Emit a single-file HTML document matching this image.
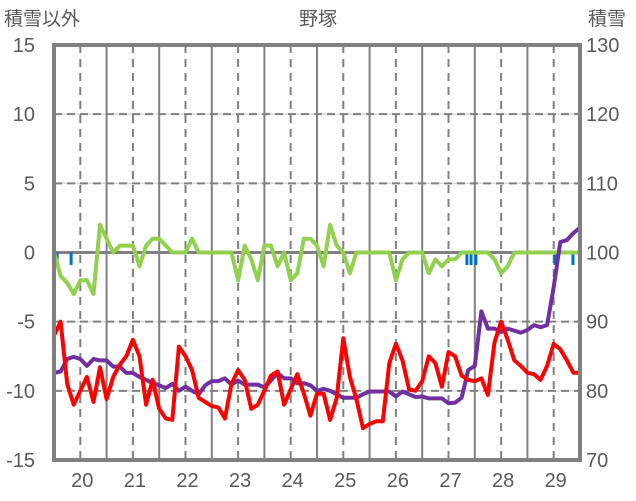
<!DOCTYPE html>
<html><head><meta charset="utf-8">
<style>
html,body{margin:0;padding:0;background:#fff;}
svg{display:block;font-family:"Liberation Sans","Noto Sans CJK JP",sans-serif;}
</style></head>
<body>
<svg id="chart" width="636" height="501" viewBox="0 0 636 501" xmlns="http://www.w3.org/2000/svg">
<text x="318" y="25" font-size="19" fill="#595959" text-anchor="middle">野塚</text>
<text x="4" y="25" font-size="19" fill="#595959">積雪以外</text>
<text x="588" y="25" font-size="19" fill="#595959">積雪</text>
<g id="grid"></g>
<g id="series"></g>
<rect x="54" y="45" width="526" height="415" fill="none" stroke="#808080" stroke-width="4"/>
<g id="axes"></g>
</svg>
<script>
const dayLabels = ["20","21","22","23","24","25","26","27","28","29"];
const leftTicks = [15,10,5,0,-5,-10,-15];
const rightTicks = [130,120,110,100,90,80,70];
// 3-hourly values starting 19th 12:00
const redValues = [-6,-5,-9.5,-11,-10,-9,-10.8,-8.3,-10.6,-9,-8.1,-7.5,-6.3,-7.5,-11,-9.2,-11.3,-12,-12.1,-6.8,-7.5,-8.5,-10.5,-10.8,-11.1,-11.2,-12,-9.5,-8.5,-9.2,-11.3,-11,-10,-8.9,-8.6,-11,-9.9,-8.8,-10.2,-11.8,-10.2,-10.2,-12.1,-10.5,-6.2,-9,-10.6,-12.7,-12.4,-12.2,-12.2,-8,-6.6,-7.8,-9.9,-10,-9.3,-7.5,-8,-9.7,-7.2,-7.5,-8.9,-9.2,-9.3,-9.1,-10.3,-6.5,-5,-6.3,-7.8,-8.2,-8.7,-8.8,-9.2,-8.2,-6.6,-7,-7.8,-8.7,-8.7];
const snowDepth = [82.6,82.8,84.6,84.9,84.6,83.6,84.6,84.4,84.4,83.5,83.5,82.6,82.6,82,81.6,81.1,80.8,80.4,81,80,80.6,80,79.5,80.8,81.4,81.4,81.8,80.9,81.5,80.9,80.9,80.9,80.5,81.5,82.6,81.8,81.8,81.1,81.1,80.8,80,80.3,80,79.5,79,79,79,79.5,79.9,79.9,79.9,79.9,79.2,79.9,79.5,79.1,79.2,78.9,78.9,78.9,78.2,78.3,79,83,83.6,91.5,89,89,88.5,89,88.7,88.4,88.8,89.5,89.2,89.5,95,101.5,101.8,102.8,103.6];
const greenValues = [0,-1.7,-2.2,-3,-2,-2,-3,2,1,0,0.5,0.5,0.5,-1,0.5,1,1,0.5,0,0,0,1,0,0,0,0,0,0,-2,0.5,-0.5,-2,0.5,0.5,-1,0,-2,-1.5,1,1,0.5,-1,2,0.5,0,-1.5,0,0,0,0,0,0,-2,-0.5,0,0,0,-1.5,-0.5,-1,-0.5,-0.5,0,0,0,0,0,-0.5,-1.5,-1,0,0,0,0,0,0,0,0,0,0,0];
const barHours = [0.5,1.4,7.8,188.4,190.3,192.5,228.6,229.5,236.8];
const barValues = [-0.9,-0.9,-0.9,-0.9,-0.9,-0.9,-0.9,-0.9,-0.9];

const NS="http://www.w3.org/2000/svg";
const X0=54, X1=580, Y0=45, Y1=460;
const xHour = h => X0 + h*(X1-X0)/240;
const xStep = i => xHour(i*3);
const yL = v => Y1 - (v+15)*(Y1-Y0)/30;
const yR = v => Y1 - (v-70)*(Y1-Y0)/60;
function mk(tag, attrs, parent){const e=document.createElementNS(NS,tag);for(const k in attrs)e.setAttribute(k,attrs[k]);parent.appendChild(e);return e;}
const grid=document.getElementById('grid'), series=document.getElementById('series'), axes=document.getElementById('axes');

leftTicks.forEach(t=>{
  if(t===15||t===-15) return;
  const y=yL(t);
  let l;
  if(t===0){
    l=mk('line',{x1:X0,x2:X1,y1:y,y2:y,stroke:'#808080','stroke-width':3},grid);
    
  } else {
    mk('line',{x1:X0,x2:X1,y1:y,y2:y,stroke:'#d9d9d9','stroke-width':1.5},grid);
    l=mk('line',{x1:X0,x2:X1,y1:y,y2:y,stroke:'#808080','stroke-width':2,'stroke-dasharray':'8,5'},grid);
    
  }
  
});
for(let d=0; d<10; d++){
  const xc=xHour(12+d*24);
  const dl=mk('line',{x1:xc,x2:xc,y1:Y0,y2:Y1,stroke:'#808080','stroke-width':2,'stroke-dasharray':'8,6'},grid);
  
  
  if(d>0){
    const xb=xHour(d*24);
    const sl=mk('line',{x1:xb,x2:xb,y1:Y0,y2:Y1,stroke:'#808080','stroke-width':2},grid);
    
    
  }
  const tx=mk('text',{x:xc+2,y:487,'font-size':20,fill:'#595959','text-anchor':'middle'},axes);
  tx.textContent=dayLabels[d];
  
  
}
leftTicks.forEach(t=>{
  const tx=mk('text',{x:35,y:yL(t)+7,'font-size':20,fill:'#595959','text-anchor':'end'},axes);
  tx.textContent=String(t);
  
  
});
rightTicks.forEach(t=>{
  const tx=mk('text',{x:586,y:yR(t)+7,'font-size':20,fill:'#595959'},axes);
  tx.textContent=String(t);
  
  
});
barHours.forEach((h,i)=>{
  const y0=yL(0), y1=yL(barValues[i]);
  const r=mk('rect',{x:xHour(h)-1.5,y:Math.min(y0,y1),width:3,height:Math.abs(y1-y0),fill:'#0070c0'},series);
  
  
});
function line(vals, yf, color, name){
  const d=vals.map((v,i)=>(i?'L':'M')+xStep(i).toFixed(1)+','+yf(v).toFixed(1)).join(' ');
  const p=mk('path',{d:d,fill:'none',stroke:color,'stroke-width':4,'stroke-linejoin':'round'},series);
  
  
}
line(greenValues, yL, '#92d050', 'green-series-line');
line(snowDepth, yR, '#7030a0', 'snow-depth-line');
line(redValues, yL, '#ff0000', 'temperature-line');
</script>
</body></html>
